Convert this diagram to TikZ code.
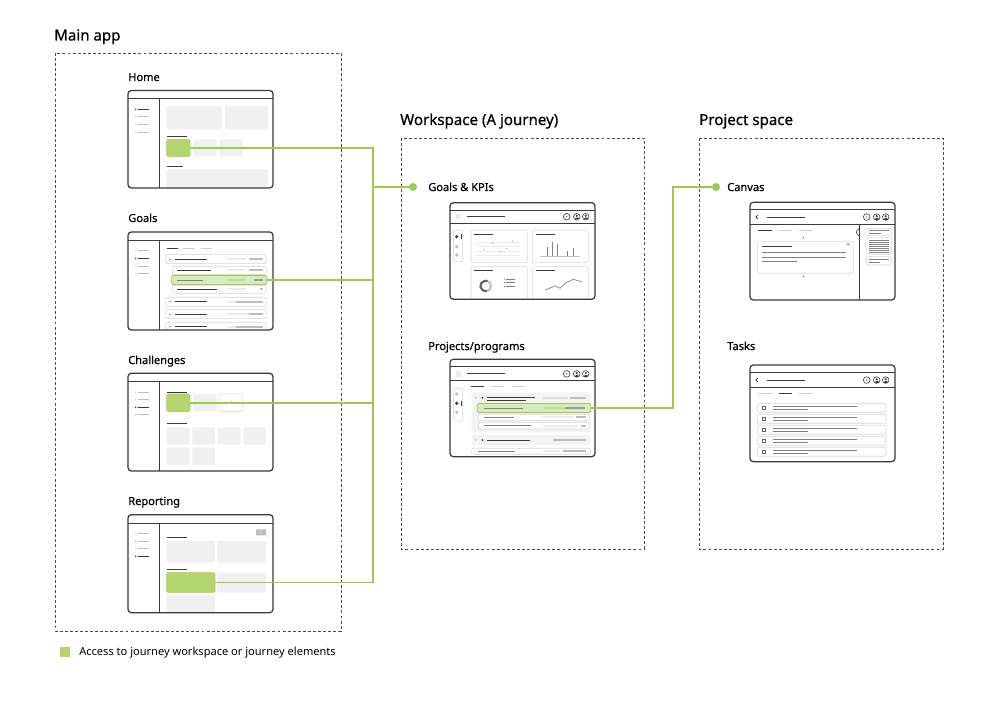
\documentclass[tikz,border=0pt]{standalone}
\usepackage{fontspec}
\setmainfont{Noto Sans}
\newfontfamily\medfont[FakeBold=0.6]{Noto Sans}
\usetikzlibrary{fit}
\definecolor{gfill}{HTML}{B3D46E}
\definecolor{gline}{HTML}{9CCB4C}
\definecolor{glight}{HTML}{D8EAC0}
\definecolor{boxgray}{HTML}{F0F0F0}
\definecolor{dark}{HTML}{3A3A3A}
\definecolor{midgray}{HTML}{BDBDBD}
\definecolor{lgray}{HTML}{CDCDCD}
\definecolor{vlgray}{HTML}{EBEBEB}
\definecolor{txtgray}{HTML}{808080}
\definecolor{grpgray}{HTML}{F3F3F3}
\newcommand\wfopen[4]{%
  \fill[white, rounded corners=2.5pt] (#1,#2) rectangle (#3,#4);
  \begin{scope}\clip[rounded corners=2.5pt] (#1,#2) rectangle (#3,#4);}
\newcommand\wfclose[4]{\end{scope}\draw[frame] (#1,#2) rectangle (#3,#4);}
\newcommand\mainside[3]{% top bottom active
  \draw[topl] (128,{#1+8.5}) -- (273,{#1+8.5});
  \draw[topl] (159.3,{#1+8.5}) -- (159.3,#2);
  \foreach \k in {0,1,2,3}{%
    \draw[ll, draw=midgray] (138,{#1+18.8+7.6*\k}) -- (149,{#1+18.8+7.6*\k});
    \fill[midgray] (135.7,{#1+18.8+7.6*\k}) circle (0.7);}
  \draw[dl] (138,{#1+18.8+7.6*(#3-1)}) -- (149,{#1+18.8+7.6*(#3-1)});
  \fill[dark] (135.7,{#1+18.8+7.6*(#3-1)}) circle (0.8);}
\newcommand\icon[3]{%
  \draw[dark, line width=0.45pt] (#1,#2) circle (3.3);
  \ifnum#3=0 \fill[dark] (#1,#2) circle (0.7);
  \else \fill[dark] (#1,{#2-0.9}) circle (1.15);
  \fill[dark] ({#1-2.1},{#2+2.7}) .. controls ({#1-2.1},{#2+0.4}) and ({#1+2.1},{#2+0.4}) .. ({#1+2.1},{#2+2.7}) -- cycle;\fi}
\newcommand\wshead[6]{% x1 y1 x2 y2 hb kind
  \draw[topl] (#1,{#2+7.5}) -- (#3,{#2+7.5});
  \draw[topl] (#1,#5) -- (#3,#5);
  \pgfmathsetmacro\hy{(#2+7.5+#5)/2}
  \ifnum#6=0 \fill[vlgray] ({#1+6},{\hy-2.7}) rectangle ({#1+11.3},{\hy+2.7});
  \else \draw[dark, line width=0.6pt] ({#1+7.7},{\hy-2}) -- ({#1+6},\hy) -- ({#1+7.7},{\hy+2});\fi
  \draw[dark, line width=0.8pt] ({#1+16.7},\hy) -- ({#1+55},\hy);
  \icon{#1+116.7}{\hy}{0}\icon{#1+126.7}{\hy}{1}\icon{#1+135.7}{\hy}{1}}
\begin{document}
\begin{tikzpicture}[x=0.75pt,y=-0.75pt,
  dashbox/.style={draw=black!70, dash pattern=on 2.2pt off 1.6pt, line width=0.6pt},
  frame/.style={draw=dark, line width=0.95pt, rounded corners=2.5pt},
  topl/.style={draw=dark, line width=0.75pt},
  gb/.style={fill=boxgray, rounded corners=0.8pt},
  gr/.style={fill=gfill, draw=gline!85, rounded corners=1pt, line width=0.4pt, inner sep=0pt},
  hl/.style={fill=glight, draw=gline, rounded corners=1pt, line width=0.6pt, inner sep=0pt},
  row/.style={draw=lgray!80, fill=white, rounded corners=1pt, line width=0.45pt},
  card/.style={draw=lgray!80, fill=white, rounded corners=1.5pt, line width=0.45pt},
  dl/.style={draw=dark, line width=0.7pt},
  tl/.style={draw=txtgray, line width=0.55pt},
  ll/.style={draw=lgray, line width=0.7pt},
  lbar/.style={draw=vlgray, line width=1.5pt},
  dbar/.style={draw=midgray, line width=1.5pt},
  conn/.style={draw=gline, line width=1.15pt},
  dot/.style={circle, fill=gline, inner sep=0pt, minimum size=6pt},
  title/.style={font=\medfont\fontsize{11.3}{13}\selectfont, anchor=base west, inner sep=0pt},
  lbl/.style={font=\medfont\fontsize{8.3}{10}\selectfont, anchor=base west, inner sep=0pt},
  leg/.style={font=\fontsize{8.3}{10}\selectfont, anchor=base west, inner sep=0pt}]
\path[use as bounding box, fill=white] (0,0) rectangle (1000,705);

% ---------- titles and dashed areas ----------
\node[title] (tmain) at (54,40.5) {Main app};
\node[title] (twork) at (400,125) {Workspace (A journey)};
\node[title] (tproj) at (699,125) {Project space};
\draw[dashbox] (55,53) rectangle (341,631);
\draw[dashbox] (401,138) rectangle (644,549);
\draw[dashbox] (699,138) rectangle (943,549);

\node[lbl] (lhome) at (128,81) {Home};
\node[lbl] (lgoals) at (128,222) {Goals};
\node[lbl] (lchal) at (128,364) {Challenges};
\node[lbl] (lrep) at (128,505) {Reporting};
\node[lbl] (lkpi) at (428,191) {Goals \& KPIs};
\node[lbl] (lprg) at (428,350) {Projects/programs};
\node[lbl] (lcan) at (727,191) {Canvas};
\node[lbl] (ltask) at (727,350) {Tasks};

% ---------- Home ----------
\wfopen{128}{90.5}{273}{188}
\mainside{90.5}{188}{1}
\fill[gb] (166.7,106) rectangle (222,129.3);
\fill[gb] (225,106) rectangle (268,129.3);
\draw[dl] (166.7,136) -- (186.7,136);
\node[gr, fit={(166.7,139.3) (190,156.7)}] (homeG) {};
\fill[gb] (193.3,139.3) rectangle (216.7,156.7);
\fill[gb] (219.3,139.3) rectangle (242.7,156.7);
\draw[dl] (166.7,166) -- (182.7,166);
\fill[gb] (166.7,169.5) rectangle (268,192);
\wfclose{128}{90.5}{273}{188}

% ---------- Goals ----------
\wfopen{128}{232}{273}{330}
\mainside{232}{330}{2}
\draw[dl] (166.7,248.7) -- (178.3,248.7);
\draw[ll] (183.3,248.7) -- (195,248.7);
\draw[ll] (201,248.7) -- (211.7,248.7);
\draw[row] (166,254.7) rectangle (266,263.7);
\fill[dark] (170,259.2) circle (0.6);
\draw[dl, line width=0.6pt] (175,259.2) -- (206.7,259.2);
\draw[lbar] (226.7,259.2) -- (246,259.2);
\draw[dbar] (249.3,259.2) -- (263.3,259.2);
\draw[row] (172.3,266.3) rectangle (266,274.3);
\draw[dl, line width=0.6pt] (177.3,270.3) -- (210.7,270.3);
\draw[lbar] (226.7,270.3) -- (246,270.3);
\draw[dbar] (249.3,270.3) -- (263.3,270.3);
\node[hl, fit={(171.7,275.4) (266.7,284.6)}] (goalsG) {};
\draw[draw=txtgray, line width=0.6pt] (177.3,280) -- (202.7,280);
\draw[draw=glight!60!gline, line width=1.5pt] (226.7,280) -- (246,280);
\draw[draw=txtgray!80, line width=1.5pt] (254.3,280) -- (263.3,280);
\draw[row] (172.3,285.3) rectangle (266,293.3);
\draw[dl, line width=0.6pt] (177.3,289.3) -- (216.7,289.3);
\draw[lbar] (226.7,289.3) -- (246,289.3);
\draw[dbar] (260,289.3) -- (263.3,289.3);
\foreach \yy/\aa in {297.3/236, 309.7/249.3, 322.3/236}{
  \draw[row] (166,\yy) rectangle (266,{\yy+9});
  \fill[dark] (170,{\yy+4.5}) circle (0.6);
  \draw[dl, line width=0.6pt] (175,{\yy+4.5}) -- (206.7,{\yy+4.5});
  \draw[lbar] (226.7,{\yy+4.5}) -- (\aa,{\yy+4.5});
  \draw[dbar] (\aa,{\yy+4.5}) -- (263.3,{\yy+4.5});}
\wfclose{128}{232}{273}{330}

% ---------- Challenges ----------
\wfopen{128}{373.3}{273}{471}
\mainside{373.3}{471}{3}
\draw[dl] (166.7,392) -- (186.7,392);
\node[gr, fit={(166.7,394) (190,411.5)}] (chalG) {};
\fill[gb] (193.3,394) rectangle (216.7,411.5);
\draw[row, draw=lgray!60] (219.3,394) rectangle (242.7,411.5);
\draw[midgray, line width=0.5pt] (229.5,402.8) -- (232.5,402.8) (231,401.3) -- (231,404.3);
\draw[dl] (166.7,423.3) -- (186.7,423.3);
\foreach \xa/\xb in {166.7/189.3, 192.3/215, 217.7/240, 243.3/266}
  \fill[gb] (\xa,427.3) rectangle (\xb,444.7);
\foreach \xa/\xb in {166.7/189.3, 192.3/215}
  \fill[gb] (\xa,447.3) rectangle (\xb,464.7);
\wfclose{128}{373.3}{273}{471}

% ---------- Reporting ----------
\wfopen{128}{514.7}{273}{612.7}
\mainside{514.7}{612.7}{4}
\fill[midgray, rounded corners=0.5pt] (256,529.3) rectangle (266,535.3);
\fill[white] (261,532.3) circle (0.6);
\draw[dl] (166.7,537.7) -- (186.7,537.7);
\fill[gb] (166.7,541) rectangle (215,562.3);
\fill[gb] (217.3,541) rectangle (266,562.3);
\draw[dl] (166.7,569) -- (186.7,569);
\node[gr, fit={(166.7,572.3) (215,592.7)}] (repG) {};
\fill[gb] (217.3,572.3) rectangle (266,592.7);
\fill[gb] (166.7,595.3) rectangle (215,615);
\wfclose{128}{514.7}{273}{612.7}

% ---------- Goals & KPIs ----------
\wfopen{450}{202.7}{595}{299.3}
\wshead{450}{202.7}{595}{299.3}{223.3}{0}
\draw[card] (453.3,230) rectangle (462.7,261.7);
\fill[dark] (456.7,236.7) circle (1.8);
\draw[dark, line width=0.7pt] (461,234.2) -- (461,239.2);
\fill[midgray] (456.7,246.7) circle (1.8);
\fill[midgray] (456.7,255) circle (1.8);
\draw[card] (471,230) rectangle (527.3,262.7);
\draw[card] (532.3,230) rectangle (588.3,262.7);
\draw[card] (471,266.7) rectangle (527.3,303);
\draw[card] (532.3,266.7) rectangle (588.3,303);
\draw[dl, line width=0.6pt] (474.3,234) -- (493.3,234);
\draw[dl, line width=0.6pt] (535.7,234) -- (555,234);
\draw[dl, line width=0.6pt] (474.3,270.7) -- (493.3,270.7);
\draw[dl, line width=0.6pt] (535.7,270.7) -- (555,270.7);
\foreach \yy in {242.3,246.7,251,255.3}
  \draw[vlgray, line width=0.4pt] (476,\yy) -- (520,\yy);
\foreach \px/\py in {492.7/243.3, 512.7/241, 484.3/249.3, 506.7/248.3, 500.7/251.7}
  \fill[txtgray] (\px,\py) circle (0.6);
\draw[midgray, line width=0.4pt] (540,256) -- (580,256);
\foreach \bx/\by in {547.3/246.7, 552.3/241.7, 557.3/244.3, 567.3/250.7, 573.3/248.3}
  \draw[txtgray, line width=0.7pt] (\bx,256) -- (\bx,\by);
\draw[midgray, line width=1.5pt] (485.7,286) circle (5.3);
\draw[dark!80, line width=1.5pt] (485.7,286) ++(80:5.3) arc (80:290:5.3);
\foreach \yy in {279,282.8,286.6}{
  \fill[dark] (504.3,\yy) circle (0.55);
  \draw[txtgray, line width=0.5pt] (506,\yy) -- (515,\yy);}
\draw[txtgray, line width=0.5pt] (545,290) -- (555,286) -- (560,288.3) -- (566,282.7) -- (573.3,279.3) -- (581.7,281.7);
\wfclose{450}{202.7}{595}{299.3}

% ---------- Projects/programs ----------
\wfopen{450}{359.3}{595}{456.7}
\wshead{450}{359.3}{595}{456.7}{381}{0}
\draw[dl] (471,386.7) -- (484.3,386.7);
\draw[ll] (491,386.7) -- (504.3,386.7);
\draw[ll] (511.7,386.7) -- (525,386.7);
\draw[card] (453.3,388.3) rectangle (462.7,421);
\fill[midgray] (456.7,394) circle (1.8);
\fill[dark] (456.7,403.3) circle (1.8);
\draw[dark, line width=0.7pt] (461,400.8) -- (461,405.8);
\fill[midgray] (456.7,412.3) circle (1.8);
\fill[grpgray, rounded corners=1.5pt] (471.7,392.3) rectangle (590.7,432.3);
\fill[dark] (475.7,397.8) circle (0.5);
\fill[dark] (482.3,397.8) circle (1);
\draw[dl, line width=0.6pt] (487.3,397.3) -- (535,397.3);
\draw[dl, line width=0.5pt] (487.3,400.3) -- (526,400.3);
\draw[lbar, draw=lgray!70] (543,397.8) -- (568,397.8);
\draw[dbar] (570,397.8) -- (586,397.8);
\node[hl, fit={(477.3,403.5) (590.7,412.5)}] (projG) {};
\draw[draw=txtgray, line width=0.6pt] (484,408) -- (523.3,408);
\draw[draw=glight!60!gline, line width=1.5pt] (544,408) -- (565,408);
\draw[draw=txtgray!80, line width=1.5pt] (565,408) -- (585,408);
\draw[row] (478.3,414.3) rectangle (589.3,420.7);
\draw[tl] (484,417.5) -- (514,417.5);
\draw[lbar] (543,417.5) -- (575,417.5);
\draw[dbar] (575.7,417.5) -- (585.7,417.5);
\draw[row] (478.3,422.7) rectangle (589.3,429);
\draw[tl] (484,425.8) -- (531,425.8);
\draw[lbar] (543,425.8) -- (578,425.8);
\draw[dbar] (581,425.8) -- (585.7,425.8);
\fill[grpgray, rounded corners=1.5pt] (471.7,435) rectangle (590.7,445);
\fill[dark] (475.7,440) circle (0.5);
\fill[dark] (482.3,440) circle (1);
\draw[dl, line width=0.6pt] (487.3,440) -- (530,440);
\draw[dbar] (553,440) -- (585.7,440);
\draw[row] (471.7,448.3) rectangle (590.7,454.3);
\draw[tl] (478.3,451.3) -- (515,451.3);
\draw[lbar] (543,451.3) -- (560,451.3);
\draw[dbar] (563,451.3) -- (586,451.3);
\wfclose{450}{359.3}{595}{456.7}

% ---------- Canvas ----------
\wfopen{750}{202.3}{895}{300}
\wshead{750}{202.3}{895}{300}{224.3}{1}
\draw[topl] (859.3,224.3) -- (859.3,300);
\draw[dark, line width=0.5pt] (859.3,228.5) .. controls (855.5,230.5) and (855.5,234) .. (859.3,236);
\draw[dl] (758.3,230.7) -- (771.7,230.7);
\draw[ll] (778.3,230.7) -- (791.7,230.7);
\draw[ll] (799,230.7) -- (812.3,230.7);
\fill[dark!80] (803.3,237.7) circle (0.8);
\draw[card] (757.3,241.7) rectangle (853.3,273.3);
\draw[dl] (762.3,246) -- (792.3,246);
\draw[txtgray, line width=0.35pt] (848.3,244.3) circle (1.1);
\draw[tl] (762.3,252.7) -- (845.7,252.7);
\draw[tl] (762.3,257.3) -- (845.7,257.3);
\draw[tl] (762.3,261.7) -- (797.3,261.7);
\fill[dark!80] (803.3,276.7) circle (0.8);
\draw[card] (866,228.3) rectangle (891.7,235.7);
\draw[tl, line width=0.45pt] (868.5,230.6) -- (889,230.6) (868.5,233.2) -- (881,233.2);
\draw[card] (866,237.7) rectangle (891.7,254.3);
\foreach \yy in {240.2,242.2,244.2,246.2,248.2,250.2,252.2}
  \draw[tl, line width=0.45pt] (868.5,\yy) -- (889,\yy);
\draw[card] (866,256.7) rectangle (891.7,265);
\draw[tl, line width=0.45pt] (868.5,259.4) -- (889,259.4) (868.5,262.2) -- (880,262.2);
\wfclose{750}{202.3}{895}{300}

% ---------- Tasks ----------
\wfopen{750}{365}{895}{461.7}
\wshead{750}{365}{895}{461.7}{387.7}{1}
\draw[ll] (758.3,393.3) -- (772.3,393.3);
\draw[dl] (779,393.3) -- (792.3,393.3);
\draw[ll] (799,393.3) -- (812.3,393.3);
\foreach \i in {0,...,4}{
  \pgfmathsetmacro\yy{403.3+11*\i}
  \draw[card] (757.3,\yy) rectangle (886,{\yy+9});
  \draw[dark!80, line width=0.45pt] (762.7,{\yy+3}) rectangle (765.7,{\yy+6});
  \draw[tl] (773.3,{\yy+3.3}) -- (856.7,{\yy+3.3});
  \draw[tl] (773.3,{\yy+5.8}) -- (808.3,{\yy+5.8});}
\wfclose{750}{365}{895}{461.7}

% ---------- connectors ----------
\node[dot] (kpiDot) at (413,187) {};
\node[dot] (canvasDot) at (716,187) {};
\coordinate (spT) at (373,148);
\coordinate (spB) at (373,582.5);
\coordinate (cj) at (673,187);
\draw[conn] (homeG.east) -- (spT) -- (spB) -- (repG.east);
\draw[conn] (goalsG.east) -- (goalsG.east -| spT);
\draw[conn] (chalG.east) -- (chalG.east -| spT);
\draw[conn] (spT |- kpiDot) -- (kpiDot);
\draw[conn] (projG.east) -| (cj) -- (canvasDot);

% ---------- legend ----------
\node[fill=gfill, inner sep=0pt, fit={(60,647) (70,657)}] (legsq) {};
\node[leg] (legtxt) at (79,656) {Access to journey workspace or journey elements};
\end{tikzpicture}
\end{document}
